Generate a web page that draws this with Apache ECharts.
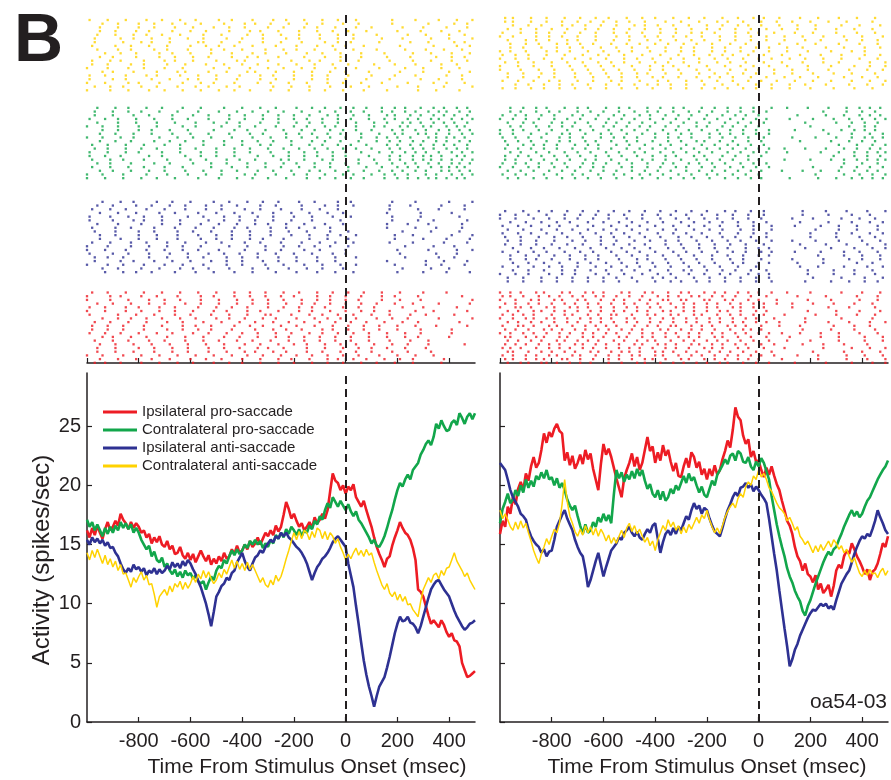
<!DOCTYPE html>
<html><head><meta charset="utf-8">
<script src="https://cdn.jsdelivr.net/npm/echarts/dist/echarts.min.js"></script>
<style>html,body{margin:0;padding:0;background:#fff}#c{width:891px;height:780px}</style>
</head><body><div id="c"></div>
<script>
// ---------- DATA ----------
const TIME_START = -1000;   // ms, first sample / first raster bin
const TIME_STEP = 10;       // ms per sample / raster bin
const xTickValues = [-800, -600, -400, -200, 0, 200, 400];
const yTickValues = [0, 5, 10, 15, 20, 25];
const seriesNames = ['Ipsilateral pro-saccade', 'Contralateral pro-saccade', 'Ipsilateral anti-saccade', 'Contralateral anti-saccade'];

// PSTH (spikes/sec), one value every 10 ms from -1000 to 500 ms
const leftIpsiPro = [
16.2,15.6,16.4,15.8,16.6,16.0,15.5,16.3,16.9,16.2,
16.5,17.0,16.6,17.6,17.1,16.8,16.3,16.9,16.4,16.8,
16.5,16.0,16.2,15.6,15.9,15.1,15.6,15.2,15.7,15.0,
14.8,15.3,14.6,14.9,14.2,14.3,14.8,14.1,13.8,14.3,
13.7,14.2,13.5,14.0,14.5,14.0,13.6,14.1,13.3,13.8,
13.4,14.0,13.6,14.3,13.8,14.0,14.6,14.2,14.9,14.3,
14.5,15.0,14.6,15.3,14.8,15.1,15.6,15.0,15.5,16.0,
15.7,16.2,15.8,16.6,16.1,16.5,17.5,18.6,18.0,17.2,
17.6,17.0,16.5,16.8,16.2,16.5,16.9,16.4,17.3,16.8,
17.1,17.6,17.2,17.9,19.5,21.0,20.4,20.2,19.6,20.0,
19.3,19.9,19.6,20.1,19.0,18.6,18.2,18.7,17.9,17.2,
16.5,15.6,14.8,14.2,13.7,13.1,13.8,14.0,14.9,15.6,
16.2,16.9,16.4,16.0,15.8,15.4,14.7,13.7,11.2,11.0,
10.6,9.8,9.0,8.3,8.6,8.3,8.0,8.6,8.2,7.6,
7.2,7.5,6.9,6.8,6.4,5.0,4.4,3.8,3.9,4.1,
4.3];
const leftContraPro = [
17.1,16.5,16.9,16.2,16.7,16.2,15.7,16.4,15.9,16.5,
16.0,16.6,16.2,16.9,16.4,16.8,16.3,16.7,16.0,16.4,
16.0,15.4,15.0,14.6,14.9,14.0,14.4,13.7,13.5,13.9,
13.1,13.4,12.8,12.5,12.9,12.3,12.7,12.2,12.8,12.4,
12.6,12.1,12.4,11.9,11.7,11.9,11.2,11.8,12.3,12.0,
12.8,13.2,13.0,13.7,13.4,14.0,14.5,14.1,14.6,14.2,
14.5,15.0,14.7,15.3,15.0,15.4,15.0,15.3,14.7,15.1,
14.8,15.4,15.1,15.8,15.5,16.0,15.6,16.3,15.9,16.5,
16.2,15.8,16.3,15.7,16.2,16.0,16.6,16.3,17.0,16.7,
17.4,17.1,17.9,18.5,18.1,19.0,18.6,18.2,18.7,18.3,
17.9,18.4,17.8,17.4,17.8,17.1,16.8,16.4,16.0,15.6,
15.1,15.4,14.9,14.8,15.2,15.7,16.4,17.2,17.9,18.8,
19.6,20.2,19.9,20.5,20.9,20.5,21.3,21.6,21.9,22.6,
23.0,23.5,23.8,23.4,24.1,25.2,24.8,25.5,25.0,24.6,
24.7,25.3,25.5,25.1,26.1,25.7,25.2,25.8,26.1,25.6,
26.1];
const leftIpsiAnti = [
15.4,15.0,15.6,15.2,15.5,15.1,15.4,14.9,15.2,14.7,
14.8,14.3,14.0,13.4,12.9,12.6,13.0,12.7,13.3,12.9,
13.1,12.7,13.0,12.4,12.8,12.6,13.0,12.5,12.9,12.6,
12.8,13.2,12.9,13.5,13.1,13.4,13.0,13.6,13.2,13.7,
13.4,12.9,12.5,11.9,11.4,10.7,10.0,9.1,8.1,9.3,
10.6,11.0,11.5,11.7,12.2,12.0,12.6,12.8,13.5,13.9,
14.3,13.6,13.1,12.8,13.4,13.9,14.1,14.5,14.3,14.8,
15.1,15.4,15.2,15.7,15.5,16.0,15.7,16.0,15.6,15.4,
15.1,14.8,14.6,14.3,13.9,13.4,12.7,12.0,12.6,13.1,
13.4,13.8,14.0,14.3,14.7,15.2,15.5,15.7,15.4,15.1,
14.8,13.4,12.4,11.4,9.8,8.3,6.7,5.2,4.0,3.0,
2.2,1.3,2.2,3.0,3.4,3.8,4.6,5.5,6.5,7.5,
8.3,8.9,8.5,8.6,8.9,8.4,8.3,8.0,7.5,8.1,
8.9,9.7,10.5,11.2,11.6,11.9,12.0,11.6,11.2,10.9,
10.6,10.0,9.4,8.9,8.5,8.1,7.8,8.0,8.3,8.4,
8.6];
const leftContraAnti = [
14.3,13.7,14.5,13.9,14.6,14.0,13.4,14.1,13.3,13.8,
13.1,13.6,12.8,13.3,12.5,12.6,12.0,11.4,12.2,11.8,
12.3,12.7,12.0,12.4,11.6,11.7,10.8,9.7,10.6,10.9,
11.2,10.7,11.5,11.0,11.7,11.4,11.9,11.2,11.8,11.3,
11.7,12.3,11.8,12.5,12.1,12.8,12.2,12.7,12.1,11.7,
12.0,12.6,12.2,12.9,12.5,13.1,13.7,13.0,13.6,12.9,
13.4,12.8,13.5,12.9,13.3,12.8,12.3,11.8,12.2,11.6,
11.4,12.0,11.6,12.4,11.9,12.3,13.0,13.8,14.5,15.3,
16.0,15.4,16.1,15.5,16.2,16.0,15.4,16.1,15.6,16.4,
16.2,15.5,16.1,15.4,16.0,15.7,15.1,15.5,14.8,14.3,
13.7,14.2,13.8,14.3,14.7,14.1,14.5,14.0,14.6,14.1,
14.3,13.5,12.8,12.2,11.6,11.2,11.7,10.9,10.6,11.0,
10.3,10.8,10.2,10.6,9.9,10.0,9.5,9.2,8.9,10.2,
11.2,11.7,12.2,11.8,12.4,12.6,12.1,12.8,12.4,13.0,
13.1,13.7,14.3,13.6,13.2,12.8,12.3,12.6,12.0,11.6,
11.2];
const rightIpsiPro = [
15.9,17.0,16.5,18.2,17.6,19.0,18.4,19.7,20.3,19.6,
21.0,20.4,21.6,22.4,21.5,21.9,23.0,24.4,23.6,24.5,
24.1,24.8,25.2,24.6,24.4,22.1,22.8,21.7,22.5,21.4,
21.9,22.6,21.8,23.0,22.2,22.7,21.4,20.5,19.6,21.8,
23.5,22.6,23.1,22.4,21.5,20.6,19.8,19.0,20.6,21.3,
21.9,22.7,21.6,22.4,21.3,21.9,23.0,24.1,22.9,23.3,
21.9,22.8,22.1,23.4,22.5,23.0,22.0,21.2,21.9,20.8,
20.7,21.6,22.3,21.5,22.8,22.4,21.5,22.0,20.9,21.4,
20.5,21.4,20.8,21.7,20.9,21.3,22.2,22.9,23.8,23.2,
24.7,26.6,25.8,25.5,24.2,23.5,23.9,22.4,22.9,22.0,
22.1,21.3,20.7,21.5,20.9,21.6,20.8,20.1,19.6,18.7,
17.9,17.0,16.6,15.9,14.8,14.0,13.6,12.8,13.4,12.5,
12.3,11.8,12.4,11.2,11.7,10.9,11.2,11.6,10.6,11.5,
12.8,13.3,13.0,14.0,14.5,14.2,15.1,14.6,14.0,13.6,
13.1,12.5,12.9,12.0,12.7,12.9,13.4,14.2,15.1,14.8,
15.7];
const rightContraPro = [
16.8,18.0,18.6,19.3,18.5,18.8,19.6,19.1,20.0,19.4,
20.5,19.8,20.4,19.9,20.8,20.5,21.1,20.6,21.3,20.5,
20.7,20.0,20.6,19.8,20.2,19.6,18.8,18.3,17.9,18.3,
17.4,16.6,15.9,16.7,16.0,16.2,16.9,16.5,17.3,16.9,
17.6,17.0,17.5,16.8,19.2,21.3,20.6,21.1,20.3,20.9,
20.5,21.2,20.6,21.4,20.8,21.3,20.4,19.7,20.1,19.3,
19.0,19.6,18.8,19.5,18.7,19.0,19.7,19.3,20.0,19.6,
20.2,20.8,20.2,21.0,20.4,20.7,20.0,19.4,19.9,19.2,
19.0,19.7,20.4,20.0,20.9,21.3,21.7,22.2,21.8,22.5,
22.7,22.1,22.9,22.7,22.0,21.9,22.4,21.6,21.3,22.0,
21.6,22.3,21.9,21.2,20.5,19.1,17.9,16.7,15.7,14.8,
14.0,13.0,12.3,11.8,11.1,10.6,10.2,9.4,9.0,9.8,
10.3,11.0,11.7,12.3,12.9,13.5,14.0,14.4,14.1,14.6,
14.8,15.4,15.9,16.5,17.0,17.5,17.9,17.4,17.8,17.3,
17.6,18.2,18.7,19.0,19.5,20.0,20.5,20.9,21.3,21.6,
22.1];
const rightIpsiAnti = [
21.9,21.6,21.3,20.5,19.6,19.0,18.6,18.2,17.6,17.4,
17.1,16.3,15.7,15.3,15.0,14.8,14.3,14.6,14.0,14.4,
14.5,15.4,16.5,17.0,17.5,17.9,17.2,16.7,16.2,15.4,
14.8,14.3,14.0,12.9,11.4,12.0,12.8,13.6,14.3,13.3,
12.3,13.1,13.8,14.5,14.8,15.1,15.6,15.4,16.0,16.2,
16.5,16.0,15.7,16.1,15.6,15.4,15.9,16.3,16.0,16.6,
16.8,15.5,14.3,15.2,15.9,16.2,15.8,16.4,15.9,16.5,
16.2,16.8,17.4,17.1,17.9,18.5,18.0,18.3,17.6,18.1,
17.9,17.2,16.6,16.1,15.9,15.7,16.4,17.2,17.9,18.4,
19.0,19.4,19.1,19.8,19.9,20.2,19.8,20.1,19.5,19.9,
19.6,19.2,18.9,18.5,17.2,15.7,14.2,12.8,11.1,9.5,
7.9,6.4,4.7,5.3,6.1,6.6,7.3,7.8,8.3,8.8,
9.2,9.5,9.4,9.7,10.0,9.8,10.0,9.6,9.8,9.5,
10.3,11.0,11.7,12.1,12.5,12.8,13.5,14.2,14.8,15.3,
15.7,15.5,15.9,15.7,16.3,17.0,17.9,17.3,16.8,16.2,
15.9];
const rightContraAnti = [
17.9,17.2,17.6,17.1,16.5,16.2,16.9,16.3,17.0,16.4,
16.8,16.0,15.3,14.5,13.9,13.4,14.2,14.8,15.5,15.0,
15.7,16.3,16.0,16.8,18.4,20.5,18.6,17.4,16.8,16.1,
15.7,16.3,15.8,16.6,16.0,16.5,15.8,16.4,15.7,16.3,
15.9,15.3,15.8,15.1,15.6,15.1,15.7,16.2,15.6,16.4,
16.8,16.1,16.6,15.9,16.3,15.7,15.2,15.6,14.9,15.3,
14.5,15.4,16.0,16.6,16.2,17.1,16.5,16.9,16.2,16.6,
15.9,16.5,16.0,16.7,16.3,16.8,17.3,16.8,17.5,17.2,
17.9,17.1,16.5,16.0,16.4,15.9,16.6,17.3,17.8,18.2,
18.5,18.1,18.9,19.3,19.0,19.9,20.3,20.0,20.8,20.5,
21.3,20.7,21.0,20.5,19.8,19.5,19.0,18.5,18.1,17.9,
17.6,17.0,17.3,16.8,16.2,16.5,15.7,15.4,15.0,15.3,
14.8,14.3,14.9,14.4,15.0,14.5,14.9,15.3,14.8,15.4,
15.1,14.6,14.9,14.3,14.6,14.0,13.5,13.9,13.2,12.6,
12.3,12.8,12.4,12.9,12.5,12.6,12.2,12.7,13.0,12.4,
12.8];

// Rasters: one string per trial, spike times as 10 ms bin numbers counted from -1000 ms
const rasterLeftContraAnti = [
"2 9 13 22 30 34 41 50 58 61 70 79 86 90 98 105 117 126 133 141 147",
"5 11 19 24 33 40 46 55 63 67 74 82 89 95 101 108 120 129 137 144",
"0 7 16 20 28 37 44 49 57 66 71 78 85 93 99 106 114 124 134 139 146",
"4 12 17 26 31 39 48 53 60 69 76 81 88 96 103 112 123 131 138 145",
"1 8 15 23 29 36 42 51 56 64 72 77 84 91 97 104 118 127 136 143 149",
"6 10 18 27 35 38 47 54 62 65 73 80 87 94 100 109 121 130 140 148",
"3 14 21 25 32 43 45 52 59 68 75 83 92 97 102 113 125 132 142 146",
"0 9 16 24 30 37 44 51 57 63 71 78 86 92 99 107 116 128 135 144",
"5 12 20 26 34 41 49 55 61 70 76 84 89 96 104 110 122 130 139 147",
"2 8 17 22 31 38 46 53 60 66 74 81 88 95 101 111 119 127 137 143",
"7 13 19 28 33 40 48 56 64 69 77 85 91 98 106 115 126 133 141 148",
"1 10 15 25 32 39 43 50 58 67 73 80 87 93 100 108 117 129 136 145",
"4 11 18 23 29 36 45 52 62 68 75 82 90 97 103 112 124 131 140 146",
"3 9 14 21 27 35 42 47 54 59 72 79 86 94 102 109 120 128 138 149",
"6 12 20 26 33 38 44 53 61 65 71 78 85 91 99 105 118 132 142 147",
"0 8 16 22 30 37 49 55 63 70 76 83 88 96 104 113 123 130 137 144",
"2 11 17 24 31 40 46 51 57 64 73 81 89 95 100 107 121 134 143 148",
"5 10 19 28 34 41 47 56 62 66 74 84 92 98 106 116 125 135 141 146",
"1 7 15 23 27 36 43 50 59 67 72 80 87 93 101 110 119 127 139 145",
"3 13 18 25 32 39 45 54 60 68 77 82 90 97 103 114 122 133 140 149"];
const rasterLeftContraPro = [
"3 8 15 21 27 36 42 50 57 63 70 76 82 88 93 99 104 110 117 121 126 130 134 139 143 147",
"1 7 12 19 26 33 39 47 55 61 68 74 80 85 91 97 102 109 115 119 124 128 133 136 141 145 149",
"5 10 17 24 30 38 45 52 58 66 72 79 86 90 96 101 107 113 118 122 127 131 137 140 144 148",
"0 6 13 18 28 35 41 48 56 64 71 77 83 89 94 100 106 112 116 120 125 132 135 139 142 146",
"4 11 16 23 29 37 44 53 60 67 73 81 87 92 98 103 108 114 119 123 129 134 138 143 147",
"2 9 14 22 31 40 46 54 59 65 75 78 84 91 95 105 111 117 121 126 130 133 137 141 145 149",
"6 12 20 25 32 39 49 57 62 69 76 83 88 94 99 104 110 118 122 127 131 136 140 144 148",
"0 7 14 21 27 34 43 51 58 64 70 77 85 90 96 102 107 115 120 124 128 132 135 139 143 146",
"3 10 18 24 33 41 47 55 61 68 74 80 86 93 97 103 109 116 119 125 129 134 138 142 147",
"1 8 15 20 29 36 44 50 57 63 71 78 84 89 95 100 106 113 118 123 127 131 136 141 145 149",
"5 11 17 26 32 38 45 53 60 66 72 79 87 92 98 105 112 117 121 126 130 135 139 144 148",
"2 9 16 22 30 37 48 56 62 69 75 82 88 94 101 108 114 120 124 128 133 137 140 143 146",
"4 12 19 27 34 42 49 54 59 67 74 81 86 91 97 104 111 116 122 125 129 134 138 142 147",
"0 6 14 23 31 39 46 52 61 65 73 80 85 92 99 103 110 115 119 124 131 135 141 145 149",
"3 10 16 21 28 35 43 51 58 64 70 76 83 90 96 102 107 114 118 123 127 132 136 139 144 148",
"1 7 13 24 29 38 44 50 57 66 72 78 84 89 95 100 109 117 121 126 130 133 137 143 146",
"5 11 18 25 33 40 47 55 63 68 77 82 87 93 98 106 113 119 122 128 131 135 140 145 149",
"2 8 15 22 30 36 45 53 60 67 71 79 86 91 97 102 108 116 120 125 129 134 138 142 147",
"4 9 17 26 32 41 48 54 62 69 76 81 88 94 100 105 112 118 123 127 132 136 141 144 148",
"0 6 12 20 27 37 42 52 59 65 73 80 85 92 96 104 111 115 121 124 130 133 139 143 146"];
const rasterLeftIpsiAnti = [
"2 9 17 23 31 38 46 52 61 67 75 83 90 96 103 117 126 138 147",
"5 12 19 28 34 43 50 57 64 72 79 86 93 99 116 129 141",
"0 8 14 22 30 37 45 54 60 69 76 84 91 98 104 119 131 137 146",
"3 11 20 26 35 41 48 56 63 71 78 85 94 101 122 133 144",
"6 13 18 27 33 40 49 55 62 68 74 82 88 97 102 118 127 140 149",
"1 10 16 24 32 39 47 53 59 66 73 80 87 95 100 121 135 143",
"4 12 21 29 36 44 51 58 65 70 77 84 92 99 116 124 132 145",
"7 14 19 25 34 42 49 57 64 73 81 89 96 103 120 130 139 148",
"2 9 15 23 30 38 46 52 61 67 75 83 90 97 117 128 136 146",
"0 8 17 24 31 37 44 55 62 69 76 82 88 94 101 123 134 142",
"5 11 20 27 35 43 50 56 63 71 79 86 93 98 104 119 126 141 149",
"3 13 18 26 33 40 48 54 60 68 74 81 89 96 116 131 138 147",
"1 9 16 22 29 39 45 53 59 66 72 80 87 95 102 118 129 144",
"6 12 21 28 36 41 47 55 64 70 78 85 91 99 122 133 140",
"4 10 19 25 32 38 46 52 58 67 73 83 92 97 103 117 125 137 146",
"0 7 15 23 30 37 43 51 61 69 75 84 90 100 120 132 143 149",
"2 11 17 26 34 42 49 57 62 71 77 82 88 94 116 127 135 145",
"5 13 20 27 35 44 50 56 63 68 76 86 93 101 119 130 139 148",
"3 8 14 24 31 39 45 54 60 66 74 81 89 96 104 123 136 142",
"1 10 18 22 29 36 47 53 59 65 72 79 87 98 118 128 134 147"];
const rasterLeftIpsiPro = [
"1 7 13 20 27 33 41 47 54 60 66 73 79 86 91 97 103 109 116 123 129 141",
"4 10 17 24 30 38 44 51 58 64 70 77 83 88 94 100 106 112 119 126 136 148",
"0 6 14 21 28 35 42 49 56 62 68 75 81 87 93 99 105 113 120 127 134",
"3 9 16 23 31 37 45 52 59 65 72 78 84 90 96 102 108 115 122 128 144",
"2 8 15 22 29 36 43 50 57 63 69 76 82 89 95 101 107 114 121 130 139",
"5 11 18 25 32 39 46 53 61 67 74 80 85 92 98 104 111 118 124 132 146",
"1 12 19 26 34 40 48 55 62 69 71 79 86 91 97 103 110 117 125 131 142",
"3 7 13 21 28 35 41 49 55 60 67 74 80 87 93 99 106 112 119 126 137",
"0 9 16 24 30 36 44 51 58 64 70 76 83 89 94 100 105 114 121 129 149",
"6 10 17 23 31 38 45 53 59 66 73 78 84 90 96 102 109 116 123 128 140",
"2 8 14 22 29 37 42 48 57 63 68 75 81 88 95 101 107 113 120 127 135 147",
"4 11 18 26 33 39 47 54 61 65 72 77 85 91 98 104 110 118 124 133",
"1 7 15 20 28 34 43 50 56 62 70 76 82 87 92 99 105 111 122 130 143",
"5 12 19 25 32 40 46 52 60 67 74 79 86 93 97 103 108 115 121 126 138",
"0 9 13 21 27 35 44 49 57 63 69 75 80 89 94 100 106 114 119 128 145",
"3 10 16 24 30 38 45 51 58 64 71 78 84 90 96 102 109 117 125 132",
"6 12 17 23 29 36 42 50 55 61 68 73 81 88 93 98 104 112 118 124 136 149",
"2 8 14 22 31 37 43 48 56 65 72 77 83 91 95 101 107 113 120 129 141",
"4 11 20 26 33 39 47 53 59 66 70 76 85 92 99 105 110 116 123 131",
"0 7 15 21 28 34 41 49 54 62 67 74 82 87 94 100 106 111 117 127 134 147"];
const rasterRightContraAnti = [
"0 6 11 17 24 29 35 41 48 53 59 66 71 77 83 88 94 100 105 112 118 125 132 139 146",
"3 8 14 20 26 33 38 44 50 56 62 68 74 80 85 91 97 103 109 115 122 130 137 144",
"1 7 13 19 23 30 36 43 47 54 61 65 72 78 84 90 96 101 107 114 121 128 136 143 149",
"4 9 16 22 27 32 39 45 51 57 64 70 75 82 87 93 99 104 111 117 126 133 141 147",
"2 5 12 18 25 31 37 42 49 55 60 67 73 79 86 92 98 102 108 116 123 131 138 145",
"0 8 15 21 28 34 40 46 52 58 63 69 76 81 89 95 100 106 113 119 127 135 142 148",
"3 10 14 19 26 30 37 44 50 57 62 68 74 79 85 91 97 103 110 118 124 134 140 146",
"1 6 12 17 23 29 35 41 47 53 59 66 72 78 83 88 94 99 105 112 120 129 137 144",
"5 11 16 24 28 33 39 45 52 56 61 67 73 80 86 92 96 101 108 115 122 132 139 147",
"2 7 13 20 26 32 38 43 48 54 60 65 71 77 84 89 95 102 109 117 125 131 143 149",
"0 4 10 18 22 27 34 40 46 51 58 64 70 75 82 87 93 98 104 111 119 128 136 141",
"3 9 15 21 29 36 42 47 53 59 63 69 76 81 85 90 97 103 110 116 123 133 140 146",
"1 8 14 19 25 31 37 44 49 55 62 68 74 78 83 91 96 100 106 114 121 130 138 145",
"6 11 17 23 28 34 41 46 52 57 61 66 72 79 86 92 99 105 112 118 126 135 142 148",
"2 5 12 18 24 30 35 40 45 50 56 64 70 77 84 88 94 101 107 113 120 127 134 144",
"0 7 13 20 27 33 39 44 51 58 63 67 73 80 87 93 98 104 111 119 128 137 143 149",
"4 10 15 22 26 31 36 43 49 54 60 65 71 76 82 89 95 100 108 115 122 131 139 146",
"1 6 11 18 25 32 38 42 48 55 62 69 75 81 86 90 96 102 109 116 124 132 141 147",
"3 9 16 21 29 35 41 47 53 57 64 70 77 83 88 94 99 106 113 121 129 136 145",
"0 5 14 19 24 30 37 45 50 56 61 67 72 78 85 91 97 103 110 117 125 133 140 148"];
const rasterRightContraPro = [
"2 7 12 17 22 28 33 38 43 49 54 59 64 70 75 80 85 90 95 100 104 110 118 126 133 138 143 147",
"0 5 10 15 21 26 31 37 42 47 52 58 63 68 73 79 84 89 94 99 103 112 121 129 135 140 145 149",
"3 8 13 19 24 29 35 40 45 51 56 61 66 72 77 82 87 92 97 101 109 117 124 131 137 142 146",
"1 6 11 16 23 27 32 39 44 48 53 60 65 69 74 81 86 91 96 102 113 122 130 136 141 144 148",
"4 9 14 18 25 30 34 41 46 50 57 62 67 71 78 83 88 93 98 105 111 119 127 134 139 143 147",
"2 6 12 17 22 27 33 37 43 49 55 59 64 70 76 80 85 90 96 100 110 120 128 133 138 142 146 149",
"0 5 9 15 20 26 31 36 42 47 52 57 63 68 73 78 84 89 94 99 104 114 125 132 137 141 145",
"3 7 13 18 24 29 34 39 45 51 55 61 66 71 75 81 87 92 97 101 112 123 130 136 140 144 148",
"1 6 10 16 21 28 32 38 44 48 54 58 64 69 74 80 86 91 95 100 115 126 133 139 143 147",
"4 8 14 19 25 30 35 41 46 52 56 62 67 72 77 82 88 93 98 103 111 124 131 137 142 146 149",
"2 7 12 18 23 27 33 37 43 49 53 59 65 70 76 79 85 90 96 101 116 128 135 140 145",
"0 5 11 15 21 26 31 36 40 47 51 57 62 68 72 78 83 89 94 99 104 121 132 138 143 148",
"3 9 13 20 24 29 34 41 45 50 55 60 66 71 76 81 87 92 97 102 118 130 136 141 146",
"1 6 10 17 22 28 32 38 44 48 54 58 63 69 74 80 84 90 95 100 122 133 139 144 149",
"4 8 14 19 23 30 35 40 46 52 57 61 67 73 77 82 88 93 98 103 125 134 140 145",
"2 7 11 16 21 26 31 37 42 47 53 59 64 68 75 79 86 91 96 101 129 137 142 147",
"0 5 12 18 24 27 33 39 43 49 55 60 65 70 74 81 85 89 94 99 104 127 136 143 148",
"3 9 13 17 22 29 34 38 45 50 56 62 66 72 78 83 88 92 97 102 131 138 144 149",
"1 6 10 15 20 25 32 36 41 46 51 57 63 67 73 77 82 87 93 98 103 133 140 146",
"4 8 14 19 24 28 35 40 44 49 54 58 64 69 76 80 86 90 95 100 120 135 141 145"];
const rasterRightIpsiAnti = [
"1 7 13 18 25 31 36 43 49 54 60 67 72 78 84 90 95 101 105 114 124 133 139 146",
"4 10 16 22 27 34 40 46 51 57 63 70 75 81 86 92 98 103 116 127 136 143 148",
"0 6 11 19 24 29 37 42 48 55 61 66 73 79 85 89 96 100 104 119 129 137 145",
"3 8 14 21 28 33 39 45 52 58 64 69 76 82 88 93 99 105 113 122 131 140 147",
"2 9 15 20 26 32 38 44 50 56 62 68 74 80 87 91 97 102 117 126 134 142 149",
"5 11 17 23 30 35 41 47 53 59 65 71 77 83 90 94 100 104 115 125 138 144",
"1 7 12 18 24 31 37 43 48 54 61 67 72 78 85 92 98 103 120 130 136 143 148",
"3 9 16 22 28 34 40 46 53 60 66 70 76 81 87 93 99 105 118 128 135 141 146",
"0 6 13 19 25 30 36 42 49 55 62 68 73 79 84 90 96 101 113 121 132 139 145",
"4 10 15 21 27 33 38 45 51 57 63 69 75 82 88 94 100 104 123 133 140 147",
"2 8 14 20 26 32 39 44 50 56 64 70 77 83 89 95 102 116 126 134 142 149",
"5 11 17 24 29 35 41 47 52 58 65 71 74 80 86 91 97 103 119 129 137 144",
"1 7 12 19 23 30 36 43 49 54 60 67 73 79 85 92 98 105 114 124 131 138 146",
"3 9 16 22 28 34 40 45 51 59 63 68 75 81 87 93 99 104 121 132 141 148",
"0 6 11 18 25 31 37 42 48 55 61 66 72 78 84 90 96 102 117 127 136 143",
"4 10 14 20 27 33 38 46 53 57 64 70 76 82 89 94 101 113 125 135 140 147",
"2 8 15 21 26 32 39 44 50 56 62 69 74 80 86 91 97 103 120 130 139 145",
"5 12 17 23 29 35 41 47 52 58 65 71 77 83 88 95 100 104 118 128 137 144 149",
"1 7 13 19 24 30 37 43 49 54 60 66 73 79 85 92 99 116 123 133 142 148",
"3 9 16 22 28 34 40 45 51 57 63 68 75 81 86 93 98 105 122 131 138 146"];
const rasterRightIpsiPro = [
"0 4 9 13 18 23 27 32 36 41 45 50 55 59 64 68 73 77 82 86 91 95 100 104 109 116 124 131 139 146",
"2 6 11 15 20 25 29 34 38 43 48 52 57 61 66 71 75 80 84 89 93 98 102 107 113 121 129 137 144",
"1 5 10 14 19 22 28 31 37 42 46 51 54 60 63 69 74 78 83 88 92 97 101 106 115 123 134 141 148",
"3 7 12 16 21 26 30 35 39 44 49 53 58 62 67 72 76 81 85 90 94 99 103 108 118 127 135 143 149",
"0 4 8 14 17 24 27 33 36 40 47 50 56 59 65 70 73 79 83 87 92 96 100 105 111 120 132 140 147",
"2 6 10 15 19 23 29 32 37 41 46 52 55 61 64 68 74 77 82 86 91 95 101 106 117 125 133 142",
"1 5 9 13 20 25 28 34 38 43 45 51 57 60 66 69 75 78 84 89 93 98 102 110 122 130 138 145",
"3 8 11 16 18 22 27 31 35 42 47 53 56 62 67 71 76 80 85 88 94 99 104 114 126 136 144 149",
"0 6 12 15 21 24 30 33 39 44 48 54 58 63 65 70 72 79 81 87 90 96 100 107 119 128 139 146",
"2 4 10 14 17 23 26 32 36 40 46 49 55 59 64 69 73 77 83 86 92 97 103 112 124 131 141 148",
"1 7 9 13 19 22 28 33 37 41 45 52 57 61 66 68 74 78 82 88 91 95 101 108 116 129 137 143",
"3 5 11 16 20 25 29 35 38 43 47 50 54 60 63 67 72 76 81 85 89 94 99 105 121 133 140 147",
"0 6 8 12 18 21 27 30 34 39 44 49 53 58 62 68 71 75 80 84 90 93 98 102 113 127 135 145",
"2 5 10 14 17 24 26 31 36 42 46 51 56 59 64 70 73 79 83 87 92 96 100 109 123 134 142 149",
"1 4 9 15 19 23 28 32 37 40 45 50 55 61 65 69 74 77 82 86 91 97 103 115 126 138 146",
"3 7 12 16 22 25 30 34 38 44 48 53 57 60 66 71 75 80 84 88 93 98 104 111 120 131 141 148",
"0 5 10 13 18 21 26 31 35 39 43 49 52 58 63 67 72 76 81 85 90 95 99 106 118 132 144",
"2 6 11 17 20 24 29 33 38 42 47 51 55 62 65 70 74 78 83 89 94 97 101 117 128 137 145",
"1 4 8 14 19 23 27 32 36 41 46 50 54 59 64 68 73 79 82 86 92 96 102 110 125 136 143 149",
"3 7 13 16 21 25 30 35 39 44 48 53 57 63 66 71 75 80 85 88 93 99 103 119 130 139 147"];

// ---------- CHART ----------
const FONT = '"Liberation Sans", Arial, Helvetica, sans-serif';
const INK = '#231f20';
const COLORS = ['#ed1c24', '#12a64b', '#2e3192', '#ffd200'];
const LINE_WIDTHS = [2.6, 2.6, 2.6, 1.5];

const leftPsth = [leftIpsiPro, leftContraPro, leftIpsiAnti, leftContraAnti];
const rightPsth = [rightIpsiPro, rightContraPro, rightIpsiAnti, rightContraAnti];
// raster blocks listed top to bottom: contra anti (yellow), contra pro (green), ipsi anti (blue), ipsi pro (red)
const leftRaster = [rasterLeftContraAnti, rasterLeftContraPro, rasterLeftIpsiAnti, rasterLeftIpsiPro];
const rightRaster = [rasterRightContraAnti, rasterRightContraPro, rasterRightIpsiAnti, rasterRightIpsiPro];
const rasterColorIdx = [3, 1, 2, 0];
const leftBlockStart = [1.35, 25.1, 50.5, 75.0];
const rightBlockStart = [0.8, 25.1, 53.0, 75.0];
const RASTER_ROWS = 94.05;
// display order of trials within a block (layout only)
const ROW_ORDER = [11, 3, 17, 8, 0, 14, 6, 19, 2, 12, 9, 16, 4, 18, 1, 13, 7, 10, 15, 5];

function toPairs(vals) { return vals.map((v, i) => [TIME_START + TIME_STEP * i, v]); }
function rasterPoints(rows, start) {
  const pts = [];
  rows.forEach((r, i) => r.trim().split(/\s+/).forEach(b => pts.push([TIME_START + TIME_STEP * Number(b), start + ROW_ORDER[i % ROW_ORDER.length]])));
  return pts;
}
const dashLine = {
  silent: true, symbol: 'none', label: { show: false },
  lineStyle: { color: INK, type: [8, 5], width: 2 },
  data: [{ xAxis: 0 }]
};

const grids = [
  { left: 87, top: 15, width: 388, height: 348 },
  { left: 500, top: 15, width: 388, height: 348 },
  { left: 87, top: 373, width: 388, height: 349 },
  { left: 500, top: 373, width: 388, height: 349 }
];
const tickAll = [-1000, -800, -600, -400, -200, 0, 200, 400];
const xAxes = grids.map((g, i) => ({
  gridIndex: i, type: 'value', min: -1000, max: 500,
  axisLine: { show: true, onZero: false, lineStyle: { color: INK, width: 1.5 } },
  axisTick: { show: true, inside: true, length: 5, lineStyle: { color: INK, width: 1.2 }, customValues: i < 2 ? tickAll : xTickValues },
  axisLabel: { show: i >= 2, customValues: xTickValues, fontSize: 20, color: INK, fontFamily: FONT, margin: 9 },
  splitLine: { show: false }
}));
const yAxes = [
  { gridIndex: 0, type: 'value', min: 0, max: RASTER_ROWS, inverse: true, show: false },
  { gridIndex: 1, type: 'value', min: 0, max: RASTER_ROWS, inverse: true, show: false },
  ...[2, 3].map(i => ({
    gridIndex: i, type: 'value', min: 0, max: 29.5,
    axisLine: { show: true, onZero: false, lineStyle: { color: INK, width: 1.5 } },
    axisTick: { show: true, inside: true, length: 5, lineStyle: { color: INK, width: 1.2 }, customValues: yTickValues },
    axisLabel: { show: i === 2, customValues: yTickValues, fontSize: 20, color: INK, fontFamily: FONT, margin: 6 },
    splitLine: { show: false }
  }))
];

const series = [];
[[leftRaster, leftBlockStart, 0], [rightRaster, rightBlockStart, 1]].forEach(([blocks, starts, gi]) => {
  blocks.forEach((rows, b) => {
    series.push({
      name: 'raster' + gi + '_' + b, type: 'scatter', xAxisIndex: gi, yAxisIndex: gi,
      symbol: 'rect', symbolSize: 2.3, silent: true, large: false, progressive: 0,
      itemStyle: { color: COLORS[rasterColorIdx[b]] },
      data: rasterPoints(rows, starts[b]),
      markLine: b === 3 ? dashLine : undefined
    });
  });
});
[[leftPsth, 2], [rightPsth, 3]].forEach(([arrs, gi]) => {
  arrs.forEach((vals, k) => {
    series.push({
      name: seriesNames[k], type: 'line', xAxisIndex: gi, yAxisIndex: gi,
      showSymbol: false, symbol: 'none', silent: true, sampling: null,
      color: COLORS[k], lineStyle: { color: COLORS[k], width: LINE_WIDTHS[k] },
      data: toPairs(vals),
      markLine: k === 0 ? dashLine : undefined
    });
  });
});

const chart = echarts.init(document.getElementById('c'), null, { renderer: 'canvas' });
chart.setOption({
  animation: false,
  backgroundColor: '#ffffff',
  textStyle: { fontFamily: FONT },
  grid: grids,
  xAxis: xAxes,
  yAxis: yAxes,
  legend: {
    data: seriesNames, orient: 'vertical', left: 103, top: 403, padding: 0,
    itemWidth: 34, itemHeight: 3, itemGap: 0, icon: 'rect', selectedMode: false,
    textStyle: { fontSize: 15, color: INK, fontFamily: FONT, lineHeight: 18 }
  },
  graphic: [
    { type: 'text', x: 14, y: 42, style: { text: 'B', font: 'bold 68px ' + FONT, fill: INK, textAlign: 'left', textVerticalAlign: 'middle' } },
    { type: 'text', x: 42, y: 560, rotation: Math.PI / 2, style: { text: 'Activity (spikes/sec)', font: '24px ' + FONT, fill: INK, textAlign: 'center', textVerticalAlign: 'middle' } },
    { type: 'text', x: 307, y: 767, style: { text: 'Time From Stimulus Onset (msec)', font: '21px ' + FONT, fill: INK, textAlign: 'center', textVerticalAlign: 'middle' } },
    { type: 'text', x: 707, y: 767, style: { text: 'Time From Stimulus Onset (msec)', font: '21px ' + FONT, fill: INK, textAlign: 'center', textVerticalAlign: 'middle' } },
    { type: 'text', x: 887, y: 702, style: { text: 'oa54-03', font: '21px ' + FONT, fill: INK, textAlign: 'right', textVerticalAlign: 'middle' } }
  ],
  series: series
});
</script></body></html>
